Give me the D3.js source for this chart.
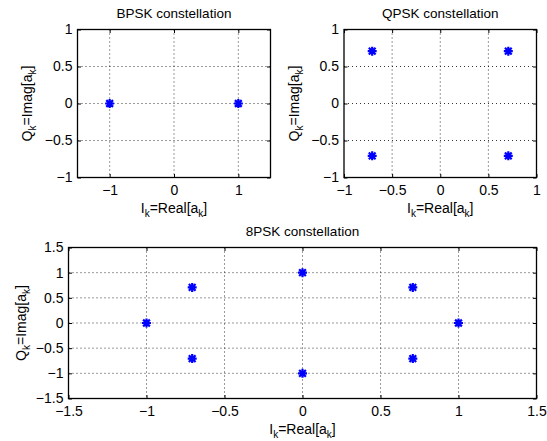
<!DOCTYPE html>
<html><head><meta charset="utf-8">
<script src="https://cdn.jsdelivr.net/npm/d3@7"></script>
<style>
body{margin:0;background:#fff;}
svg{display:block;}
text{font-family:"Liberation Sans",Arial,sans-serif;fill:#000;}
</style></head>
<body><svg id="chart" width="547" height="441"></svg>
<script>
// ---- data ----
const bpskI = [-1, 1];
const bpskQ = [0, 0];
const qpskI = [-0.7071, 0.7071, -0.7071, 0.7071];
const qpskQ = [0.7071, 0.7071, -0.7071, -0.7071];
const psk8I = [1, 0.7071, 0, -0.7071, -1, -0.7071, 0, 0.7071];
const psk8Q = [0, 0.7071, 1, 0.7071, 0, -0.7071, -1, -0.7071];
const bpskXTicks = [-1, 0, 1];
const unitTicks = [-1, -0.5, 0, 0.5, 1];
const psk8Ticks = [-1.5, -1, -0.5, 0, 0.5, 1, 1.5];
const titles = ["BPSK constellation", "QPSK constellation", "8PSK constellation"];

const svg = d3.select("#chart");
const fmt = v => (v < 0 ? "\u2212" : "") + String(Math.abs(v));
const FONT = '"Liberation Sans",Arial,sans-serif';

function panel(cfg) {
  const {x0, x1, y0, y1, xDom, yDom, xTicks, yTicks, I, Q, title, ylabX} = cfg;
  const xs = d3.scaleLinear().domain(xDom).range([x0, x1]);
  const ys = d3.scaleLinear().domain(yDom).range([y1, y0]);
  const g = svg.append("g");
  // grid
  g.selectAll(".gx").data(xTicks.filter(t => t > xDom[0] && t < xDom[1])).join("line")
    .attr("x1", d => xs(d)).attr("x2", d => xs(d)).attr("y1", y0).attr("y2", y1)
    .attr("stroke", "#000").attr("stroke-width", 0.8).attr("stroke-dasharray", "1,3");
  g.selectAll(".gy").data(yTicks.filter(t => t > yDom[0] && t < yDom[1])).join("line")
    .attr("y1", d => ys(d)).attr("y2", d => ys(d)).attr("x1", x0).attr("x2", x1)
    .attr("stroke", "#000").attr("stroke-width", 0.8).attr("stroke-dasharray", "1,3");
  // axes (ticks inward)
  const tl = 3.5;
  g.append("g").attr("transform", `translate(0,${y1})`)
    .call(d3.axisBottom(xs).tickValues(xTicks).tickSize(-tl).tickPadding(7.5).tickFormat(fmt))
    .call(a => a.select(".domain").remove());
  g.append("g").attr("transform", `translate(0,${y0})`)
    .call(d3.axisTop(xs).tickValues(xTicks).tickSize(-tl).tickFormat(""))
    .call(a => a.select(".domain").remove());
  g.append("g").attr("transform", `translate(${x0},0)`)
    .call(d3.axisLeft(ys).tickValues(yTicks).tickSize(-tl).tickPadding(5).tickFormat(fmt))
    .call(a => a.select(".domain").remove());
  g.append("g").attr("transform", `translate(${x1},0)`)
    .call(d3.axisRight(ys).tickValues(yTicks).tickSize(-tl).tickFormat(""))
    .call(a => a.select(".domain").remove());
  g.selectAll(".tick text").style("font-family", FONT).attr("font-size", 14).attr("fill", "#000");
  g.selectAll(".tick line").attr("stroke", "#000").attr("stroke-width", 1);
  g.append("rect").attr("x", x0).attr("y", y0).attr("width", x1 - x0).attr("height", y1 - y0)
    .attr("fill", "none").attr("stroke", "#000").attr("stroke-width", 1.3);
  // title
  g.append("text").attr("x", (x0 + x1) / 2).attr("y", y0 - 12).attr("text-anchor", "middle")
    .attr("font-size", 13.5).text(title);
  // x label
  const xl = g.append("text").attr("x", (x0 + x1) / 2).attr("y", y1 + 35).attr("text-anchor", "middle").attr("font-size", 14);
  xl.append("tspan").text("I");
  xl.append("tspan").attr("font-size", 10).attr("dy", 4).text("k");
  xl.append("tspan").attr("dy", -4).text("=Real[a");
  xl.append("tspan").attr("font-size", 10).attr("dy", 4).text("k");
  xl.append("tspan").attr("dy", -4).text("]");
  // y label
  const yl = g.append("text").attr("transform", `translate(${ylabX},${(y0 + y1) / 2}) rotate(-90)`)
    .attr("text-anchor", "middle").attr("font-size", 14);
  yl.append("tspan").text("Q");
  yl.append("tspan").attr("font-size", 10).attr("dy", 4).text("k");
  yl.append("tspan").attr("dy", -4).text("=Imag[a");
  yl.append("tspan").attr("font-size", 10).attr("dy", 4).text("k");
  yl.append("tspan").attr("dy", -4).text("]");
  // markers (asterisk)
  const r = 4.5;
  const pts = I.map((v, i) => [v, Q[i]]);
  const star = `M${-r},0L${r},0M0,${-r}L0,${r}M${-r*0.75},${-r*0.75}L${r*0.75},${r*0.75}M${-r*0.75},${r*0.75}L${r*0.75},${-r*0.75}`;
  g.selectAll(".pt").data(pts).join("path")
    .attr("transform", d => `translate(${xs(d[0])},${ys(d[1])})`)
    .attr("d", star).attr("stroke", "#0000ff").attr("stroke-width", 2.2).attr("fill", "none");
}

panel({x0: 77.5, x1: 270.5, y0: 29.5, y1: 177.5, xDom: [-1.5, 1.5], yDom: [-1, 1],
  xTicks: bpskXTicks, yTicks: unitTicks, I: bpskI, Q: bpskQ, title: titles[0], ylabX: 32});
panel({x0: 344, x1: 536.5, y0: 29.5, y1: 177.5, xDom: [-1, 1], yDom: [-1, 1],
  xTicks: unitTicks, yTicks: unitTicks, I: qpskI, Q: qpskQ, title: titles[1], ylabX: 298.5});
panel({x0: 68.5, x1: 536.5, y0: 247.5, y1: 398.5, xDom: [-1.5, 1.5], yDom: [-1.5, 1.5],
  xTicks: psk8Ticks, yTicks: psk8Ticks, I: psk8I, Q: psk8Q, title: titles[2], ylabX: 26});
</script></body></html>
